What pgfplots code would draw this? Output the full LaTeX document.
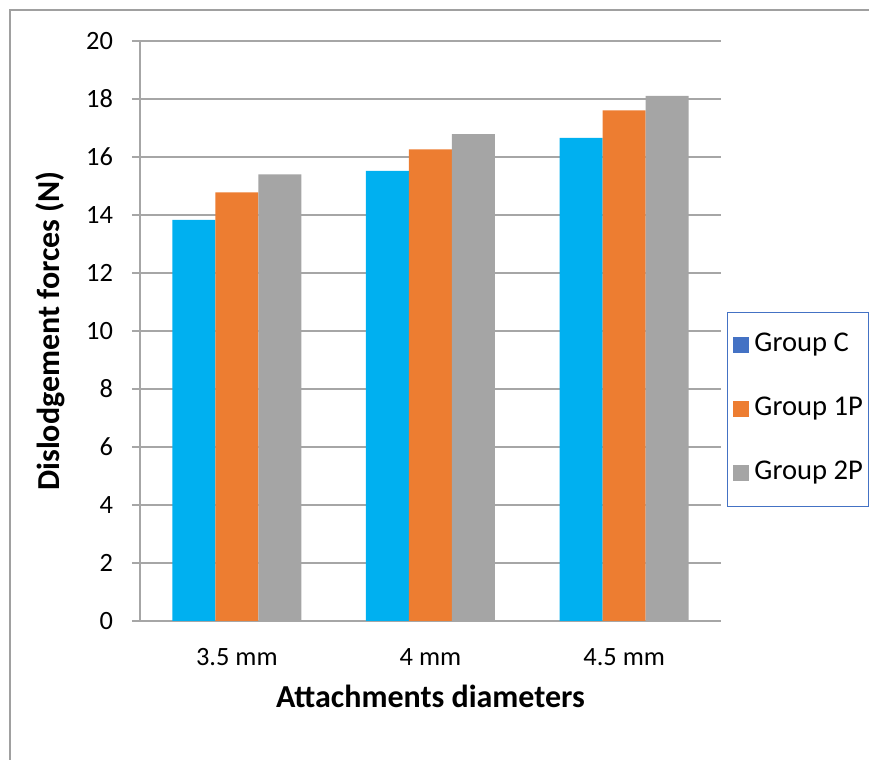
\documentclass[border=0pt]{standalone}
\usepackage{fontspec}
\setmainfont{Carlito}
\usepackage{pgfplots}
\pgfplotsset{compat=1.18}
\definecolor{cC}{HTML}{00B0F0}
\definecolor{cCleg}{HTML}{4472C4}
\definecolor{c1P}{HTML}{ED7D31}
\definecolor{c2P}{HTML}{A5A5A5}
\definecolor{gridc}{HTML}{A6A6A6}
\definecolor{framec}{HTML}{A0A0A0}
\begin{document}
\fontsize{13}{15}\selectfont
\begin{tikzpicture}
\begin{axis}[
  at={(0,0)}, anchor=south west,
  scale only axis,
  width=290.5pt, height=290pt,
  xmin=-0.5, xmax=2.5,
  ymin=0, ymax=20,
  ytick={0,2,...,20},
  xtick={0,1,2},
  xticklabels={3.5 mm, 4 mm, 4.5 mm},
  axis x line=bottom, axis y line=left,
  axis line style={draw=gridc, line width=0.65pt, -},
  ymajorgrids, grid style={draw=gridc, line width=0.65pt},
  tick align=outside,
  major tick length=4pt,
  x tick style={draw=none},
  y tick style={draw=gridc, line width=0.65pt},
  /pgf/number format/assume math mode=true,
  ticklabel style={font=\fontsize{13.2}{15}\selectfont},
  yticklabel style={xshift=-5pt},
  xticklabel style={anchor=base, yshift=-18.5pt},
  ybar=0pt, bar width=21.5pt,
  every axis y label/.style={at={(axis description cs:-0.1394,0.5)}, anchor=base, rotate=90, font=\bfseries\fontsize{16}{18}\selectfont},
  every axis x label/.style={at={(axis description cs:0.5,-0.1483)}, anchor=base, font=\bfseries\fontsize{16}{18}\selectfont},
  ylabel={Dislodgement forces (N)},
  xlabel={Attachments diameters},
  legend style={at={(1.0103,0.5328)}, anchor=north west, draw=cCleg, line width=0.5pt,
    font=\fontsize{14.3}{16}\selectfont, row sep=20pt, inner xsep=3pt, inner ysep=10.5pt,
    nodes={anchor=west, text height=9pt, text depth=3pt, inner sep=0pt},
    column sep=2.5pt},
  legend cell align=left,
]
\addplot[fill=cC, draw=none, legend image code/.code={\fill[cCleg] (0pt,-4pt) rectangle (8pt,4pt);}]
  coordinates {(0,13.83) (1,15.52) (2,16.66)};
\addplot[fill=c1P, draw=none, legend image code/.code={\fill[c1P] (0pt,-4pt) rectangle (8pt,4pt);}]
  coordinates {(0,14.78) (1,16.26) (2,17.61)};
\addplot[fill=c2P, draw=none, legend image code/.code={\fill[c2P] (0pt,-4pt) rectangle (8pt,4pt);}]
  coordinates {(0,15.40) (1,16.79) (2,18.11)};
\legend{Group C, Group 1P, Group 2P}
\end{axis}
\draw[framec, line width=0.75pt] (-65pt,-80pt) -- (-65pt,305.5pt) -- (380pt,305.5pt);
\pgfresetboundingbox
\path[use as bounding box] (-70pt,-69.5pt) rectangle (364.5pt,310.5pt);
\end{tikzpicture}
\end{document}
